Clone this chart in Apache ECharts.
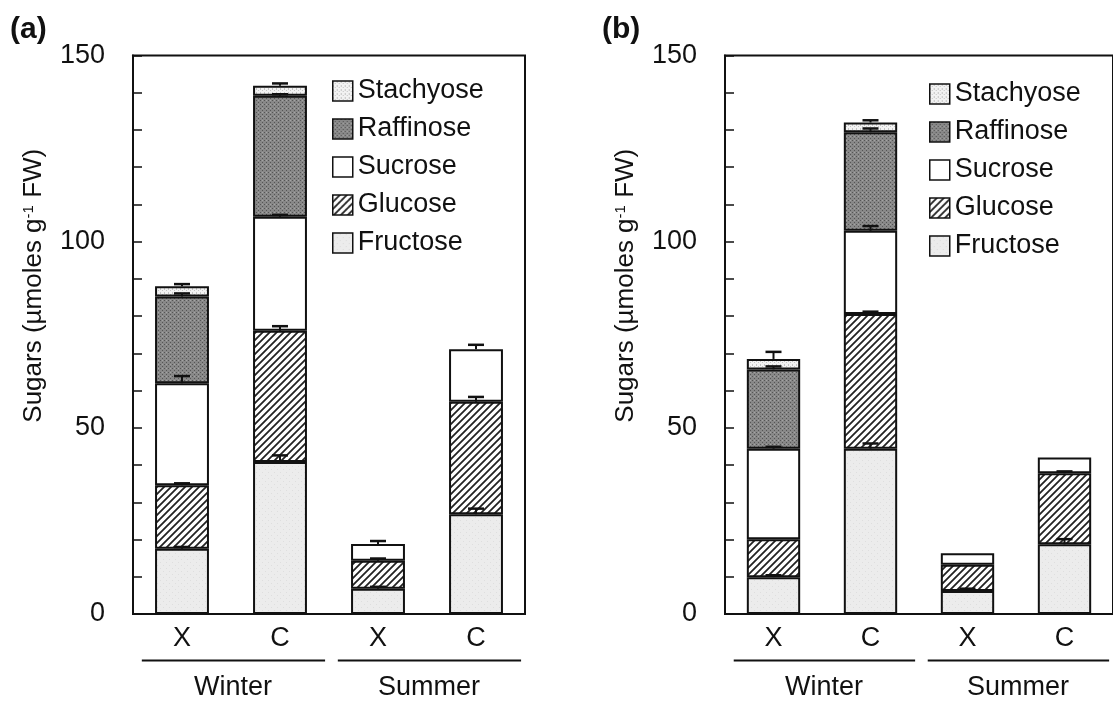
<!DOCTYPE html>
<html>
<head>
<meta charset="utf-8">
<script src="https://cdn.jsdelivr.net/npm/echarts@6/dist/echarts.min.js"></script>
<style>
  html, body { margin: 0; padding: 0; background: #fff; }
  #chart { width: 1113px; height: 707px; }
</style>
</head>
<body>
<div id="chart"></div>
<script>
// ---------- data ----------
const categories = ['X', 'C', 'X', 'C'];
const groups = ['Winter', 'Summer'];
const groupStart = [0, 2];
const groupEnd = [1, 3];
const sugarNames = ['Fructose', 'Glucose', 'Sucrose', 'Raffinose', 'Stachyose'];
const legendOrder = ['Stachyose', 'Raffinose', 'Sucrose', 'Glucose', 'Fructose'];
const panelLabels = ['(a)', '(b)'];
const yMin = 0, yMax = 150, yInterval = 50;

// Panel (a): Winter X, Winter C, Summer X, Summer C
const fructoseA  = [17.5, 40.8, 6.8, 26.8];
const glucoseA   = [17.1, 35.3, 7.5, 30.2];
const sucroseA   = [27.4, 30.6, 4.5, 14.1];
const raffinoseA = [23.3, 32.5, null, null];
const stachyoseA = [2.7, 2.7, null, null];
const fructoseErrA  = [0.5, 1.8, 0.5, 1.5];
const glucoseErrA   = [0.5, 1.2, 0.6, 1.3];
const sucroseErrA   = [1.9, 0.5, 0.8, 1.2];
const raffinoseErrA = [0.8, 0.4, 0, 0];
const stachyoseErrA = [0.6, 0.6, 0, 0];

// Panel (b)
const fructoseB  = [9.9, 44.4, 6.2, 18.7];
const glucoseB   = [10.2, 36.2, 7.0, 19.1];
const sucroseB   = [24.3, 22.3, 3.1, 4.2];
const raffinoseB = [21.3, 26.5, null, null];
const stachyoseB = [2.8, 2.6, null, null];
const fructoseErrB  = [0.5, 1.4, 0.6, 1.4];
const glucoseErrB   = [0, 0.6, 0, 0.5];
const sucroseErrB   = [0.5, 1.3, 0, 0];
const raffinoseErrB = [0.8, 1.0, 0, 0];
const stachyoseErrB = [1.9, 0.6, 0, 0];

// ---------- styles ----------
const FONT = '"Liberation Sans", Arial, sans-serif';
const INK = '#111';

function makeTile(size, draw) {
  const c = document.createElement('canvas');
  c.width = size; c.height = size;
  const ctx = c.getContext('2d');
  draw(ctx, size);
  return { image: c, repeat: 'repeat' };
}
const fructoseFill = makeTile(6, (ctx, s) => {
  ctx.fillStyle = '#ececec'; ctx.fillRect(0, 0, s, s);
  ctx.fillStyle = '#dedede'; ctx.fillRect(1, 1, 1, 1); ctx.fillRect(4, 4, 1, 1);
});
const glucoseFill = makeTile(7, (ctx, s) => {
  ctx.fillStyle = '#ffffff'; ctx.fillRect(0, 0, s, s);
  ctx.strokeStyle = '#222'; ctx.lineWidth = 1.8;
  ctx.beginPath();
  ctx.moveTo(-1, s + 1); ctx.lineTo(s + 1, -1);
  ctx.moveTo(-2, 2); ctx.lineTo(2, -2);
  ctx.moveTo(s - 2, s + 2); ctx.lineTo(s + 2, s - 2);
  ctx.stroke();
});
const sucroseFill = '#ffffff';
const raffinoseFill = makeTile(4, (ctx, s) => {
  ctx.fillStyle = '#888888'; ctx.fillRect(0, 0, s, s);
  ctx.fillStyle = '#555555'; ctx.fillRect(0, 0, 1, 1); ctx.fillRect(2, 2, 1, 1);
  ctx.fillStyle = '#a4a4a4'; ctx.fillRect(2, 0, 1, 1);
});
const stachyoseFill = makeTile(4, (ctx, s) => {
  ctx.fillStyle = '#f2f2f2'; ctx.fillRect(0, 0, s, s);
  ctx.fillStyle = '#c4c4c4'; ctx.fillRect(0, 0, 1, 2); ctx.fillRect(2, 2, 1, 1);
});
const fills = [fructoseFill, glucoseFill, sucroseFill, raffinoseFill, stachyoseFill];

const panels = [
  { values: [fructoseA, glucoseA, sucroseA, raffinoseA, stachyoseA],
    errs: [fructoseErrA, glucoseErrA, sucroseErrA, raffinoseErrA, stachyoseErrA],
    grid: { left: 133, top: 55.5, width: 392, height: 558.5 },
    legend: { left: 327, top: 72 }, label: { left: 5, top: 10 } },
  { values: [fructoseB, glucoseB, sucroseB, raffinoseB, stachyoseB],
    errs: [fructoseErrB, glucoseErrB, sucroseErrB, raffinoseErrB, stachyoseErrB],
    grid: { left: 725, top: 55.5, width: 393, height: 558.5 },
    legend: { left: 924, top: 75 }, label: { left: 597, top: 10 } }
];

const grids = [], xAxes = [], yAxes = [], legends = [], titles = [], series = [];

panels.forEach((p, pi) => {
  grids.push(Object.assign({ show: true, borderColor: INK, borderWidth: 2, containLabel: false }, p.grid));
  titles.push({ text: panelLabels[pi], left: p.label.left, top: p.label.top,
    textStyle: { fontFamily: FONT, fontSize: 30, fontWeight: 'bold', color: INK } });
  xAxes.push({
    type: 'category', gridIndex: pi, data: categories,
    axisLine: { lineStyle: { color: INK, width: 2 } },
    axisTick: { show: false },
    axisLabel: { fontFamily: FONT, fontSize: 27, color: INK, margin: 11 }
  });
  yAxes.push({
    type: 'value', gridIndex: pi, min: yMin, max: yMax, interval: yInterval,
    splitLine: { show: false },
    axisLine: { show: true, lineStyle: { color: INK, width: 2 } },
    axisTick: { show: true, inside: true, length: 9, lineStyle: { color: INK, width: 1.5 } },
    minorTick: { show: true, splitNumber: 5, length: 9, lineStyle: { color: INK, width: 1.5 } },
    axisLabel: { fontFamily: FONT, fontSize: 27, color: INK, margin: 28 },
    name: 'Sugars (µmoles g{sup|-1} FW)',
    nameLocation: 'middle', nameRotate: 90, nameGap: 86,
    nameTextStyle: { fontFamily: FONT, fontSize: 26, color: INK, padding: [0, 0, 0, 98],
      rich: { sup: { fontFamily: FONT, fontSize: 15, color: INK, padding: [0, 0, 11, 0] } } }
  });
  legends.push({
    data: legendOrder, orient: 'vertical', left: p.legend.left, top: p.legend.top,
    itemWidth: 20, itemHeight: 20, itemGap: 10, icon: 'rect', selectedMode: false,
    textStyle: { fontFamily: FONT, fontSize: 27, color: INK, lineHeight: 28 },
    itemStyle: { borderColor: INK, borderWidth: 1.5 }
  });

  sugarNames.forEach((name, k) => {
    series.push({
      type: 'bar', name, stack: 'panel' + pi, xAxisIndex: pi, yAxisIndex: pi,
      barWidth: '55%',
      data: p.values[k].map(v => (v == null ? '-' : v)),
      itemStyle: { color: fills[k], borderColor: INK, borderWidth: 2 },
      emphasis: { disabled: true }, animation: false
    });
  });

  // error bars (upward) at the top of each stacked segment
  const errData = [];
  categories.forEach((c, i) => {
    let cum = 0;
    sugarNames.forEach((n, k) => {
      const v = p.values[k][i];
      if (v == null) return;
      cum += v;
      const e = p.errs[k][i];
      if (e > 0) errData.push([i, cum, cum + e]);
    });
  });
  series.push({
    type: 'custom', xAxisIndex: pi, yAxisIndex: pi, z: 10, animation: false,
    data: errData, encode: { x: 0, y: [1, 2] },
    renderItem: (params, api) => {
      const x = api.value(0);
      const a = api.coord([x, api.value(1)]);
      const b = api.coord([x, api.value(2)]);
      return { type: 'group', children: [
        { type: 'line', shape: { x1: a[0], y1: a[1], x2: b[0], y2: b[1] }, style: { stroke: INK, lineWidth: 2 } },
        { type: 'line', shape: { x1: b[0] - 8, y1: b[1], x2: b[0] + 8, y2: b[1] }, style: { stroke: INK, lineWidth: 2.5 } }
      ] };
    }
  });

  // season brackets and labels below the category labels
  series.push({
    type: 'custom', xAxisIndex: pi, yAxisIndex: pi, z: 10, animation: false, clip: false,
    data: groups.map((g, gi) => [groupStart[gi], groupEnd[gi], 0]),
    encode: { x: [0, 1], y: 2 },
    renderItem: (params, api) => {
      const bw = api.size([1, 0])[0];
      const s = api.coord([api.value(0), 0]);
      const e = api.coord([api.value(1), 0]);
      const x0 = s[0] - 0.41 * bw, x1 = e[0] + 0.46 * bw;
      const y = s[1];
      return { type: 'group', children: [
        { type: 'line', shape: { x1: x0, y1: y + 46.5, x2: x1, y2: y + 46.5 }, style: { stroke: INK, lineWidth: 2 } },
        { type: 'text', style: { text: groups[params.dataIndex], x: (s[0] + e[0]) / 2 + 2, y: y + 74,
            font: '27px ' + FONT, fill: INK, align: 'center', verticalAlign: 'middle' } }
      ] };
    }
  });
});

const chart = echarts.init(document.getElementById('chart'), null, { renderer: 'canvas' });
chart.setOption({
  backgroundColor: '#fff',
  animation: false,
  title: titles,
  grid: grids,
  xAxis: xAxes,
  yAxis: yAxes,
  legend: legends,
  series: series
});
</script>
</body>
</html>
